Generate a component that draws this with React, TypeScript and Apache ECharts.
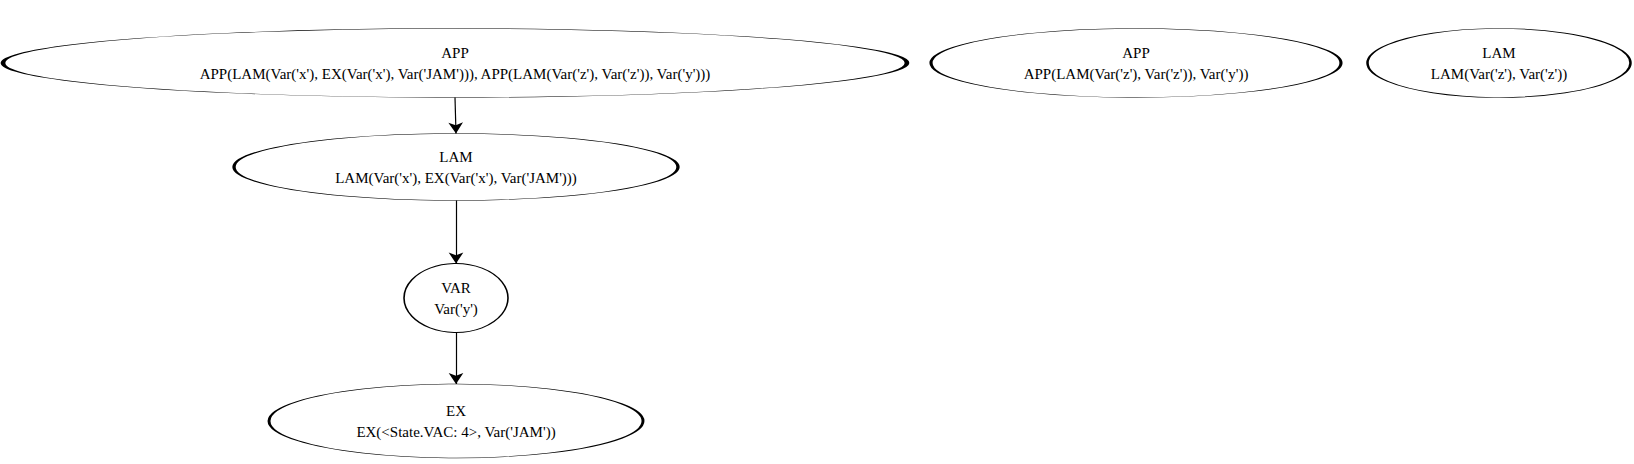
import * as echarts from 'echarts';
import { useEffect, useRef } from 'react';

// node data: kind, expression, centre, ellipse size
const nodeKinds = ['APP', 'APP', 'LAM', 'LAM', 'VAR', 'EX'];
const nodeExprs = [
  "APP(LAM(Var('x'), EX(Var('x'), Var('JAM'))), APP(LAM(Var('z'), Var('z')), Var('y')))",
  "APP(LAM(Var('z'), Var('z')), Var('y'))",
  "LAM(Var('z'), Var('z'))",
  "LAM(Var('x'), EX(Var('x'), Var('JAM')))",
  "Var('y')",
  'EX(<State.VAC: 4>, Var(\'JAM\'))',
];
const nodeX = [455, 1136, 1499, 456, 456, 456];
const nodeY = [63, 63, 63, 167, 298, 421];
const nodeW = [904, 410, 263, 444, 104, 374];
const nodeH = [69, 69, 69, 67, 69, 74];
const edges: [number, number][] = [
  [0, 3],
  [3, 4],
  [4, 5],
];

const App = () => {
  const ref = useRef<HTMLDivElement>(null);

  useEffect(() => {
    document.body.style.margin = '0';
    const chart = echarts.init(ref.current!, undefined, { renderer: 'svg' });

    const nodes = nodeKinds.map((k, i) => ({
      value: [nodeX[i], nodeY[i]],
      symbolSize: [nodeW[i], nodeH[i]],
      label: { formatter: k + '\n' + nodeExprs[i] },
    }));

    const lineData = edges.map(([a, b]) => ({
      coords: [
        [nodeX[a], nodeY[a] + nodeH[a] / 2],
        [nodeX[b], nodeY[b] - nodeH[b] / 2],
      ],
    }));

    chart.setOption({
      animation: false,
      backgroundColor: '#fff',
      grid: { left: 0, right: 0, top: 0, bottom: 0 },
      xAxis: { type: 'value', min: 0, max: 1634, show: false },
      yAxis: { type: 'value', min: 0, max: 464, inverse: true, show: false },
      series: [
        {
          type: 'lines',
          coordinateSystem: 'cartesian2d',
          data: lineData,
          symbol: ['none', 'arrow'],
          symbolSize: 11,
          lineStyle: { color: '#000', width: 1.2, opacity: 1 },
          z: 1,
        },
        {
          type: 'scatter',
          symbol: 'circle',
          data: nodes,
          itemStyle: { color: 'rgba(255,255,255,0)', borderColor: '#000', borderWidth: 1.3, opacity: 1 },
          label: {
            show: true,
            position: 'inside',
            color: '#000',
            fontFamily: 'Liberation Serif',
            fontSize: 15,
            lineHeight: 21,
          },
          emphasis: { disabled: true },
          z: 2,
        },
      ],
    });
    return () => chart.dispose();
  }, []);

  return <div ref={ref} style={{ width: 1634, height: 464 }} />;
};

export default App;
